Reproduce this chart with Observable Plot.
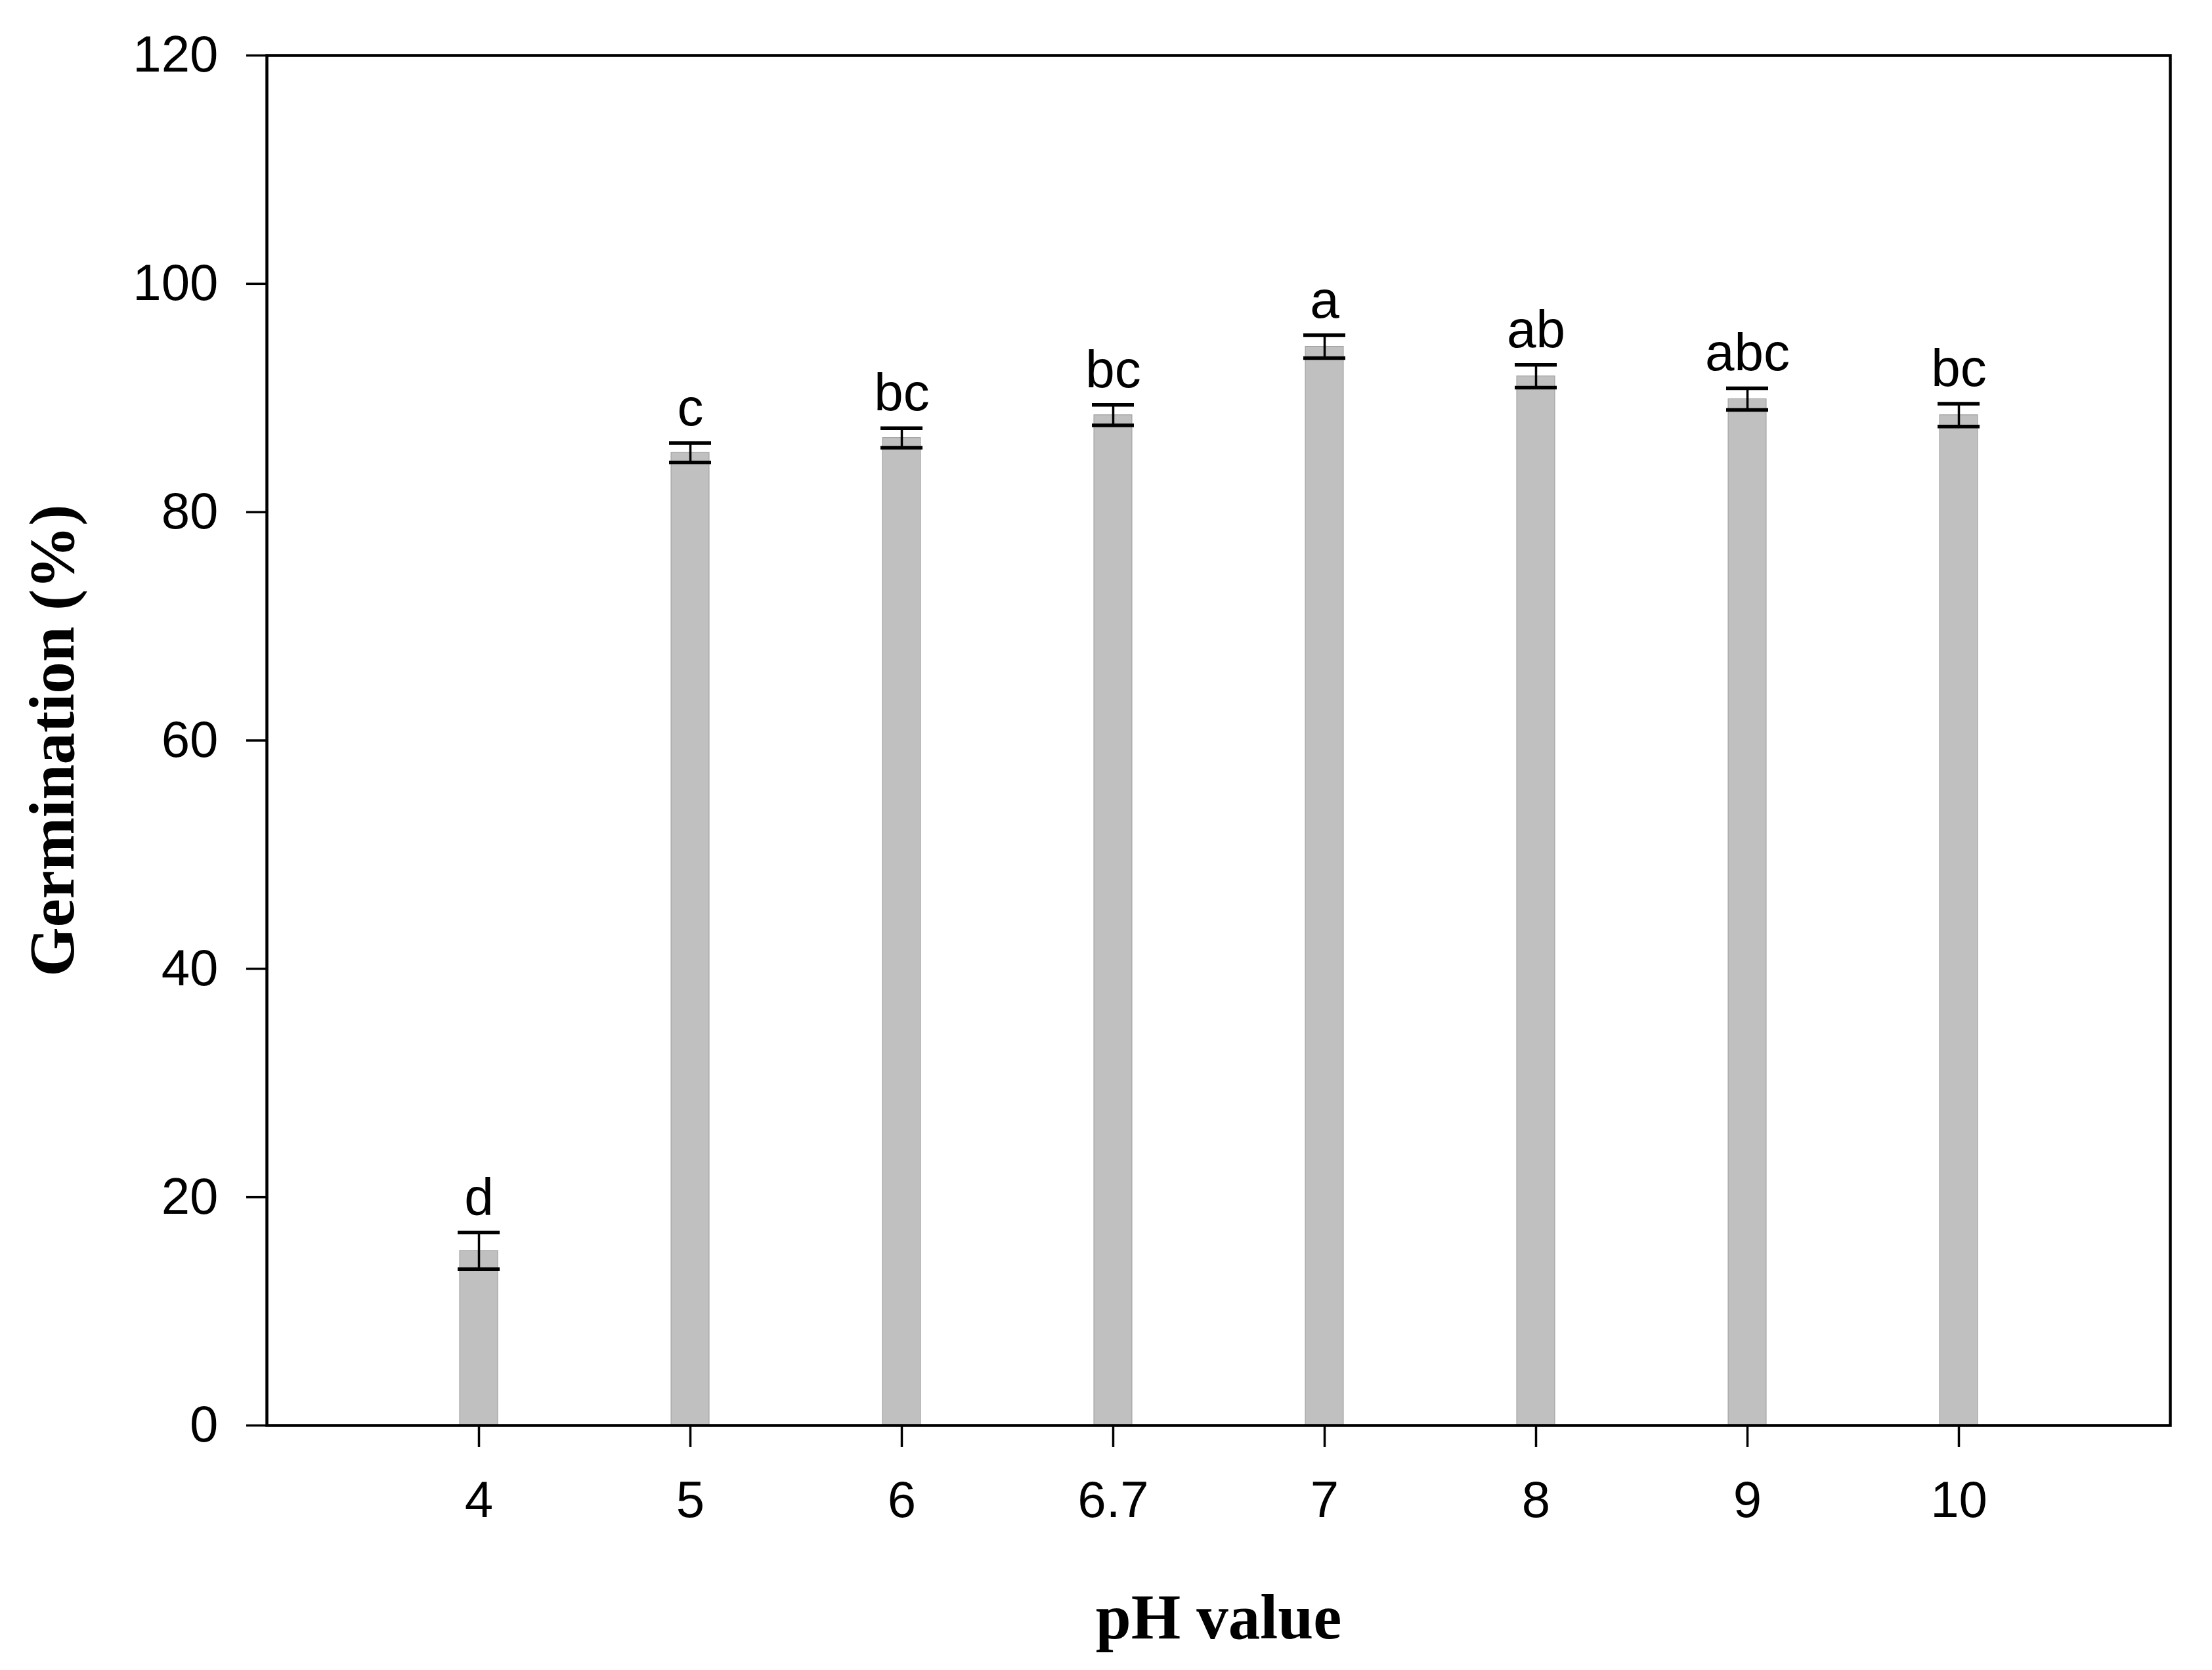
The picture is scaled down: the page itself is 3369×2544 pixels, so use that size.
<!DOCTYPE html>
<html><head><meta charset="utf-8">
<script src="https://cdn.jsdelivr.net/npm/d3@7"></script>
<script src="https://cdn.jsdelivr.net/npm/@observablehq/plot@0.6"></script>
<style>body{margin:0;background:#fff}</style>
</head><body><div id="chart"></div>
<script>
const phLabels = ["4","5","6","6.7","7","8","9","10"];
const germination = [15.3, 85.2, 86.5, 88.5, 94.5, 91.9, 89.9, 88.5];
const stdError = [1.6, 0.85, 0.85, 0.9, 1.0, 1.0, 0.95, 1.0];
const letters = ["d","c","bc","bc","a","ab","abc","bc"];
const yTicks = [0, 20, 40, 60, 80, 100, 120];

const data = phLabels.map((ph, i) => ({ph, g: germination[i], se: stdError[i], letter: letters[i]}));

const sans = "'Liberation Sans', Arial, sans-serif";
const serif = "'Liberation Serif', 'Times New Roman', serif";

const chart = Plot.plot({
  width: 3369, height: 2544,
  marginLeft: 406, marginRight: 64, marginTop: 84, marginBottom: 373,
  style: {background: "#fff", fontFamily: sans, color: "#000"},
  x: {type: "band", domain: phLabels, paddingInner: 0.82, paddingOuter: 0.91},
  y: {domain: [0, 120]},
  marks: [
    Plot.barY(data, {x: "ph", y: "g", fill: "#c0c0c0", stroke: "#9a9a9a", strokeWidth: 1}),
    Plot.ruleX(data, {x: "ph", y1: d => d.g - d.se, y2: d => d.g + d.se, stroke: "#000", strokeWidth: 3.5}),
    Plot.tickY(data, {x: "ph", y: d => d.g + d.se, stroke: "#000", strokeWidth: 5.5, insetLeft: -3, insetRight: -3}),
    Plot.tickY(data, {x: "ph", y: d => d.g - d.se, stroke: "#000", strokeWidth: 5.5, insetLeft: -3, insetRight: -3}),
    Plot.text(data, {x: "ph", y: d => d.g + d.se, text: "letter", dy: -27, lineAnchor: "bottom", fontSize: 80, fill: "#000", fontFamily: sans}),
    Plot.axisX({tickSize: 33, tickPadding: 51, fontSize: 78, strokeWidth: 3.5, label: null, fontFamily: sans}),
    Plot.axisY({ticks: yTicks, tickSize: 31, tickPadding: 43, fontSize: 78, strokeWidth: 3.5, label: null, fontFamily: sans}),
    Plot.frame({stroke: "#000", strokeWidth: 4.5}),
    Plot.text(["Germination (%)"], {frameAnchor: "left", dx: -326, rotate: -90, textAnchor: "middle", lineAnchor: "middle", fontSize: 97, fontWeight: "bold", fontFamily: serif, fill: "#000"}),
    Plot.text(["pH value"], {frameAnchor: "bottom", dy: 324, textAnchor: "middle", lineAnchor: "bottom", fontSize: 97, fontWeight: "bold", fontFamily: serif, fill: "#000"})
  ]
});
document.getElementById("chart").appendChild(chart);
</script>
</body></html>
